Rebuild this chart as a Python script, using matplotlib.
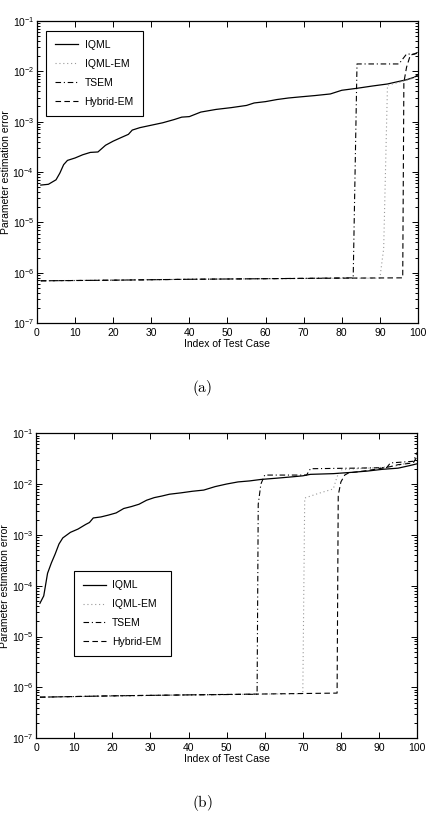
import numpy as np
import matplotlib
matplotlib.use("Agg")
import matplotlib.pyplot as plt
from matplotlib.ticker import LogLocator, NullFormatter

plt.rcParams['font.family'] = ['Liberation Sans', 'DejaVu Sans']
plt.rcParams['axes.unicode_minus'] = False

# ---------------- datos panel (a) ----------------
a_iqml_x = [1, 3, 5, 6, 7, 8, 10, 12, 14, 16, 18, 20, 22, 24, 25, 27, 30, 33, 36, 38,
            40, 43, 47, 51, 55, 57, 60, 63, 66, 69, 73, 77, 80, 84, 88, 92, 95, 97, 99, 100]
a_iqml_y = [5.5e-5, 5.7e-5, 7.0e-5, 9.5e-5, 1.4e-4, 1.7e-4, 1.9e-4, 2.2e-4, 2.45e-4, 2.5e-4,
            3.4e-4, 4.1e-4, 4.8e-4, 5.6e-4, 6.8e-4, 7.6e-4, 8.5e-4, 9.5e-4, 1.1e-3, 1.23e-3,
            1.26e-3, 1.55e-3, 1.75e-3, 1.9e-3, 2.1e-3, 2.35e-3, 2.5e-3, 2.75e-3, 2.95e-3, 3.1e-3,
            3.3e-3, 3.55e-3, 4.2e-3, 4.6e-3, 5.1e-3, 5.6e-3, 6.3e-3, 6.8e-3, 7.6e-3, 8.5e-3]

a_iqmlem_x = [1, 30, 60, 90, 91, 92, 95, 98, 100]
a_iqmlem_y = [6.9e-7, 7.3e-7, 7.6e-7, 7.8e-7, 3.0e-6, 5.3e-3, 6.0e-3, 7.0e-3, 8.0e-3]

a_tsem_x = [1, 20, 40, 60, 83, 84, 90, 95, 97, 99, 100]
a_tsem_y = [6.9e-7, 7.1e-7, 7.4e-7, 7.6e-7, 7.9e-7, 1.4e-2, 1.4e-2, 1.4e-2, 2.2e-2, 2.2e-2, 2.4e-2]

a_hyb_x = [1, 20, 40, 60, 80, 96, 96.3, 97, 98, 100]
a_hyb_y = [6.9e-7, 7.1e-7, 7.4e-7, 7.6e-7, 7.8e-7, 7.9e-7, 6.0e-3, 1.2e-2, 2.1e-2, 2.3e-2]

# ---------------- datos panel (b) ----------------
b_iqml_x = [1, 2, 3, 4, 5, 6, 7, 9, 11, 13, 14, 15, 17, 19, 21, 23, 25, 27, 29, 31, 33, 35,
            38, 41, 44, 47, 50, 53, 56, 59, 63, 67, 70, 72, 78, 83, 87, 91, 95, 98, 100]
b_iqml_y = [4.5e-5, 6.3e-5, 1.75e-4, 2.8e-4, 4.2e-4, 6.6e-4, 8.7e-4, 1.12e-3, 1.3e-3, 1.6e-3,
            1.75e-3, 2.15e-3, 2.25e-3, 2.45e-3, 2.7e-3, 3.3e-3, 3.6e-3, 4.0e-3, 4.8e-3, 5.4e-3,
            5.8e-3, 6.3e-3, 6.7e-3, 7.2e-3, 7.6e-3, 8.9e-3, 1.0e-2, 1.1e-2, 1.15e-2, 1.23e-2,
            1.3e-2, 1.38e-2, 1.45e-2, 1.55e-2, 1.6e-2, 1.7e-2, 1.8e-2, 1.95e-2, 2.05e-2, 2.3e-2, 2.5e-2]

b_iqmlem_x = [1, 40, 70, 70.5, 74, 78, 79, 80, 84, 90, 95, 100]
b_iqmlem_y = [6.4e-7, 7.1e-7, 7.5e-7, 5.3e-3, 6.5e-3, 8.0e-3, 1.4e-2, 1.9e-2, 2.0e-2, 2.1e-2, 2.3e-2, 3.0e-2]

b_tsem_x = [1, 20, 40, 58, 58.3, 59, 60, 71, 72, 83, 92, 93, 99, 100]
b_tsem_y = [6.4e-7, 6.8e-7, 7.1e-7, 7.3e-7, 4.0e-3, 1.0e-2, 1.5e-2, 1.5e-2, 2.0e-2, 2.05e-2,
            2.1e-2, 2.6e-2, 2.8e-2, 4.2e-2]

b_hyb_x = [1, 20, 40, 60, 79, 79.3, 80, 81, 82, 86, 90, 93, 95, 99, 100]
b_hyb_y = [6.4e-7, 6.8e-7, 7.1e-7, 7.4e-7, 7.7e-7, 6.0e-3, 1.1e-2, 1.5e-2, 1.65e-2, 1.8e-2,
           2.0e-2, 2.2e-2, 2.4e-2, 2.6e-2, 3.5e-2]

etiquetas = ['IQML', 'IQML-EM', 'TSEM', 'Hybrid-EM']
xticks = list(range(0, 101, 10))


def dibujar(ax, series, legend_loc):
    (x1, y1), (x2, y2), (x3, y3), (x4, y4) = series
    ax.plot(x1, y1, color='k', lw=0.9, label=etiquetas[0])
    ax.plot(x2, y2, color='0.6', lw=0.8, ls=(0, (1, 2.5)), label=etiquetas[1])
    ax.plot(x3, y3, color='k', lw=0.8, ls=(0, (5, 2.5, 1, 2.5)), label=etiquetas[2])
    ax.plot(x4, y4, color='k', lw=0.8, ls=(0, (5, 3)), label=etiquetas[3])
    ax.set_yscale('log')
    ax.set_xlim(0, 100)
    ax.set_ylim(1e-7, 1e-1)
    ax.set_xticks(xticks)
    ax.yaxis.set_major_locator(LogLocator(base=10, numticks=10))
    ax.yaxis.set_minor_locator(LogLocator(base=10, subs=np.arange(2, 10), numticks=20))
    ax.yaxis.set_minor_formatter(NullFormatter())
    ax.tick_params(which='both', direction='in', top=True, right=True,
                   labelsize=7.5, width=0.7)
    ax.tick_params(which='major', length=4)
    ax.tick_params(which='minor', length=2)
    ax.tick_params(axis='y', pad=2)
    for s in ax.spines.values():
        s.set_linewidth(0.9)
    ax.set_xlabel('Index of Test Case', fontsize=7.5, labelpad=1)
    ax.set_ylabel('Parameter estimation error', fontsize=7.5)
    ax.yaxis.set_label_coords(-0.068, 0.5)
    leg = ax.legend(loc='upper left', bbox_to_anchor=legend_loc, fontsize=7.5,
                    handlelength=2.2, handletextpad=0.6, labelspacing=0.85,
                    borderpad=0.9, fancybox=False, framealpha=1, edgecolor='k')
    leg.get_frame().set_linewidth(0.8)


fig = plt.figure(figsize=(4.3, 8.22), dpi=100)
ax1 = fig.add_axes([0.086, 0.607, 0.886, 0.3675])
ax2 = fig.add_axes([0.084, 0.102, 0.886, 0.371])

dibujar(ax1, [(a_iqml_x, a_iqml_y), (a_iqmlem_x, a_iqmlem_y),
              (a_tsem_x, a_tsem_y), (a_hyb_x, a_hyb_y)], (0.01, 0.985))
dibujar(ax2, [(b_iqml_x, b_iqml_y), (b_iqmlem_x, b_iqmlem_y),
              (b_tsem_x, b_tsem_y), (b_hyb_x, b_hyb_y)], (0.085, 0.565))

fig.text(0.47, 1 - 388 / 822, r'$\mathrm{(a)}$', ha='center', va='center',
         fontsize=11, math_fontfamily='cm')
fig.text(0.47, 1 - 803 / 822, r'$\mathrm{(b)}$', ha='center', va='center',
         fontsize=11, math_fontfamily='cm')

fig.savefig('out.png', dpi=100)
